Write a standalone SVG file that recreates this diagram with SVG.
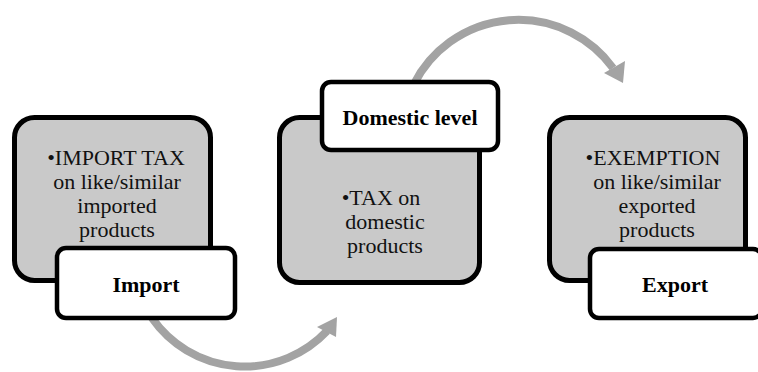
<svg xmlns="http://www.w3.org/2000/svg" width="758" height="372" viewBox="0 0 758 372">
<style>
.grey{fill:#c9c9c9;stroke:#000;stroke-width:5}
.white{fill:#fff;stroke:#000;stroke-width:4.5}
.body{font-family:'Liberation Serif','Times New Roman',serif;font-size:22px;fill:#111;text-anchor:middle}
.label{font-family:'Liberation Serif','Times New Roman',serif;font-size:22px;font-weight:bold;fill:#000;text-anchor:middle}
.arc{fill:none;stroke:#a3a3a3;stroke-width:8}
.head{fill:#a3a3a3}
</style>
<g id="connectors">
<path class="arc" d="M414,84 A117,117 0 0 1 613,68"/>
<polygon class="head" points="604,73 625,61 623,83"/>
<path class="arc" d="M152,318 A113,113 0 0 0 327,331"/>
<polygon class="head" points="317,327 337,317 336,337"/>
</g>
<g id="import-detail">
<rect class="grey" x="14.5" y="117.5" width="196" height="163" rx="20"/>
<text class="body" x="116" y="165">•IMPORT TAX</text>
<text class="body" x="117" y="189">on like/similar</text>
<text class="body" x="117" y="213">imported</text>
<text class="body" x="117" y="237">products</text>
</g>
<g id="import">
<rect class="white" x="57" y="248" width="178" height="70" rx="9"/>
<text class="label" x="146" y="292">Import</text>
</g>
<g id="domestic-detail">
<rect class="grey" x="279.5" y="117.5" width="200" height="165" rx="20"/>
<text class="body" x="381" y="205">•TAX on</text>
<text class="body" x="385" y="229">domestic</text>
<text class="body" x="385" y="253">products</text>
</g>
<g id="domestic">
<rect class="white" x="322" y="82" width="176" height="68" rx="9"/>
<text class="label" x="410" y="125">Domestic level</text>
</g>
<g id="export-detail">
<rect class="grey" x="549.5" y="117.5" width="196" height="163" rx="20"/>
<text class="body" x="653" y="165">•EXEMPTION</text>
<text class="body" x="657" y="189">on like/similar</text>
<text class="body" x="657" y="213">exported</text>
<text class="body" x="657" y="237">products</text>
</g>
<g id="export">
<rect class="white" x="590" y="249" width="172" height="69" rx="9"/>
<text class="label" x="675" y="292">Export</text>
</g>
</svg>
